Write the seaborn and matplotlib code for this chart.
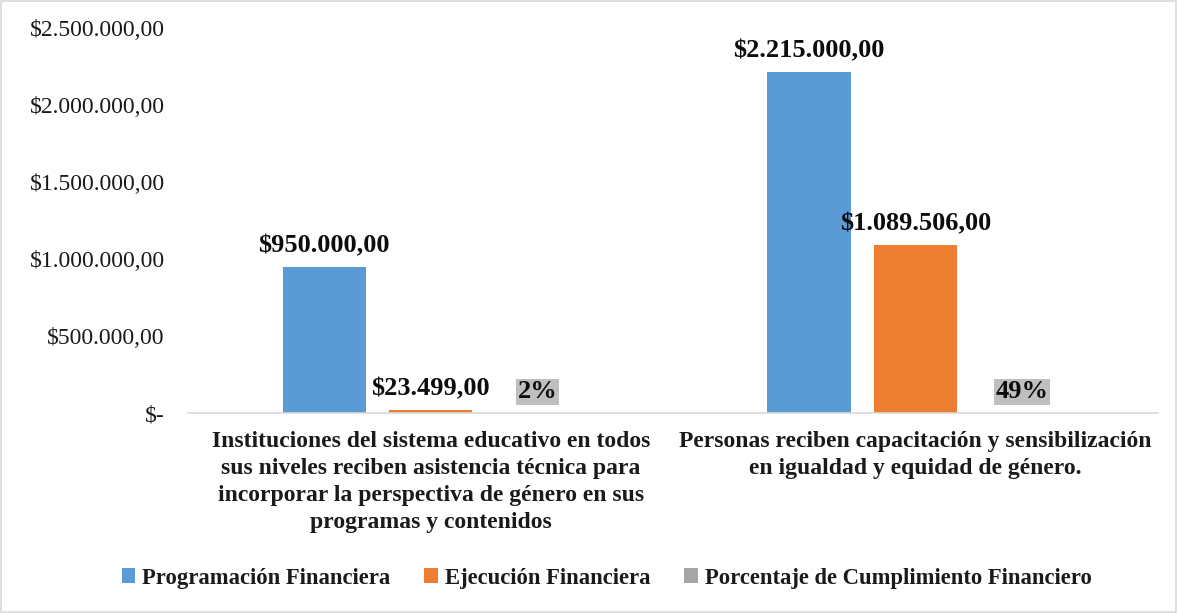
import matplotlib
matplotlib.use("Agg")
import matplotlib.pyplot as plt
from matplotlib.patches import Rectangle
from matplotlib.ticker import FuncFormatter, MultipleLocator
import pandas as pd
import seaborn as sns

# ── data ────────────────────────────────────────────────────────────────────
categories = [
    "Instituciones del sistema educativo en todos\nsus niveles reciben asistencia técnica para\n"
    "incorporar la perspectiva de género en sus\nprogramas y contenidos",
    "Personas reciben capacitación y sensibilización\nen igualdad y equidad de género.",
]
series = ["Programación Financiera", "Ejecución Financiera",
          "Porcentaje de Cumplimiento Financiero"]
programacion = [950000.00, 2215000.00]
ejecucion = [23499.00, 1089506.00]
cumplimiento = [0.02, 0.49]
colors = ["#5b9bd5", "#ed7d31", "#a5a5a5"]


def money(v):
    if v == 0:
        return "$-"
    s = f"{v:,.2f}".replace(",", "X").replace(".", ",").replace("X", ".")
    return "$" + s


df = pd.DataFrame({
    "categoria": categories * 3,
    "serie": [s for s in series for _ in categories],
    "valor": programacion + ejecucion + cumplimiento,
})

sns.set_theme(style="white")
plt.rcParams["font.family"] = ["Liberation Serif", "DejaVu Serif"]

fig = plt.figure(figsize=(11.78, 6.13), dpi=100)
ax = fig.add_axes([0.16, 0.326, 0.823, 0.628])

sns.barplot(data=df, x="categoria", y="valor", hue="serie",
            hue_order=series, palette=colors, width=0.66, gap=0.22,
            ax=ax, legend=True, saturation=1, linewidth=0)

ax.set_ylim(0, 2500000)
ax.yaxis.set_major_locator(MultipleLocator(500000))
ax.yaxis.set_major_formatter(FuncFormatter(lambda v, p: money(v)))
ax.tick_params(axis="y", labelsize=17, length=0, pad=17, labelcolor="#1a1a1a")
ax.tick_params(axis="x", length=0, pad=13)
ax.set_xlabel("")
ax.set_ylabel("")
ax.set_xticks(range(len(categories)))
ax.set_xticklabels(categories, fontsize=17, fontweight="bold",
                   linespacing=1.38, color="#1a1a1a")
for side in ["top", "right", "left"]:
    ax.spines[side].set_visible(False)
ax.spines["bottom"].set_color("#d9d9d9")
ax.spines["bottom"].set_linewidth(1.2)
ax.grid(False)

# data labels
for container, name in zip(ax.containers, series):
    for bar, v in zip(container, df[df["serie"] == name]["valor"]):
        x = bar.get_x() + bar.get_width() / 2
        if name == series[2]:
            ax.annotate(f"{v:.0%}", (x, bar.get_height()), xytext=(0, 7),
                        textcoords="offset points", ha="center", va="bottom",
                        fontsize=19, fontweight="bold", color="#0d0d0d",
                        bbox=dict(boxstyle="square,pad=0.05",
                                  fc="#bfbfbf", ec="none"))
        else:
            ax.annotate(money(v), (x, bar.get_height()), xytext=(0, 7),
                        textcoords="offset points", ha="center", va="bottom",
                        fontsize=19, fontweight="bold", color="#0d0d0d")

ax.legend_.remove()
handles, labels = ax.get_legend_handles_labels()
fig.legend(handles, labels, loc="center", bbox_to_anchor=(0.515, 0.057),
           ncol=3, frameon=False,
           prop={"size": 16.3, "weight": "bold"}, labelcolor="#1a1a1a",
           handlelength=0.6, handleheight=0.6, handletextpad=0.3,
           columnspacing=1.5)

fig.patches.append(Rectangle((0.001, 0.001), 0.997, 0.997,
                             transform=fig.transFigure, fill=False,
                             edgecolor="#d9d9d9", linewidth=1.2))

plt.savefig("out.png", dpi=100)
plt.close()
